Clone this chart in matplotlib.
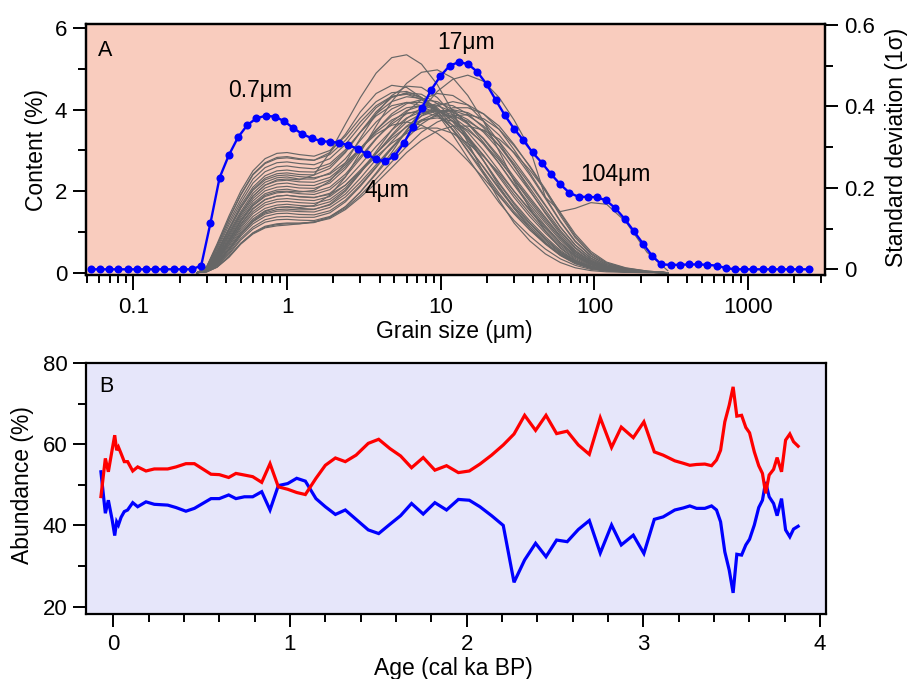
import matplotlib
matplotlib.use("Agg")
import matplotlib.pyplot as plt
from matplotlib.ticker import FixedLocator, FixedFormatter, NullFormatter

plt.rcParams['font.family'] = ['Liberation Sans', 'DejaVu Sans']

# ---------------- Panel A data ----------------
# grain-size classes (um) of the standard-deviation curve
SIZE_UM = [0.0528, 0.0607, 0.0697, 0.0800, 0.0918, 0.1053, 0.1209, 0.1387, 0.1592, 0.1828,
           0.2098, 0.2408, 0.2764, 0.3173, 0.3642, 0.4180, 0.4797, 0.5507, 0.6321, 0.7256,
           0.8329, 0.9560, 1.097, 1.260, 1.446, 1.660, 1.905, 2.187, 2.510, 2.881,
           3.307, 3.796, 4.357, 5.001, 5.741, 6.590, 7.564, 8.682, 9.966, 11.44,
           13.13, 15.07, 17.30, 19.86, 22.79, 26.16, 30.03, 34.47, 39.57, 45.42,
           52.13, 59.84, 68.69, 78.85, 90.51, 103.9, 119.2, 136.9, 157.1, 180.3,
           207.0, 237.6, 272.7, 313.0, 359.3, 412.5, 473.4, 543.4, 623.8, 716.0,
           821.9, 943.4, 1083, 1243, 1427, 1638, 1880, 2158, 2477]
STD_1SIGMA = [0.0, 0.0, 0.0, 0.0, 0.0, 0.0, 0.0, 0.0, 0.0, 0.0,
              0.0, 0.0, 0.009, 0.113, 0.225, 0.280, 0.324, 0.354, 0.371, 0.377,
              0.375, 0.364, 0.347, 0.332, 0.322, 0.315, 0.313, 0.311, 0.305, 0.296,
              0.283, 0.270, 0.265, 0.278, 0.309, 0.350, 0.397, 0.441, 0.475, 0.500,
              0.509, 0.504, 0.485, 0.455, 0.416, 0.378, 0.345, 0.317, 0.287, 0.262,
              0.234, 0.209, 0.188, 0.178, 0.178, 0.177, 0.169, 0.150, 0.124, 0.094,
              0.063, 0.033, 0.012, 0.011, 0.011, 0.012, 0.012, 0.011, 0.009, 0.003,
              0.0, 0.0, 0.0, 0.0, 0.0, 0.0, 0.0, 0.0, 0.0]

# grain-size classes (um) of the sample distributions (grey curves)
GRAY_SIZE = [0.26, 0.3, 0.35, 0.42, 0.5, 0.6, 0.72, 0.86, 1.0, 1.2, 1.5, 1.9, 2.4, 3.0, 3.8,
             4.8, 6.0, 7.5, 9.5, 12, 15, 19, 24, 30, 38, 48, 60, 75, 95, 120, 160, 220, 300]

S01 = [0, 0.15, 0.7, 1.4, 2.0, 2.5, 2.8, 2.93, 2.95, 2.9, 2.86, 3.0, 3.35, 3.8, 4.2, 4.42, 4.45, 4.3, 3.98, 3.5, 2.98, 2.42, 1.9, 1.45, 1.05, 0.7, 0.42, 0.22, 0.1, 0.05, 0.02, 0.01, 0]
S02 = [0, 0.12, 0.6, 1.25, 1.8, 2.3, 2.58, 2.7, 2.72, 2.68, 2.65, 2.8, 3.15, 3.6, 4.05, 4.32, 4.4, 4.3, 4.02, 3.6, 3.12, 2.58, 2.05, 1.58, 1.15, 0.78, 0.48, 0.26, 0.12, 0.06, 0.025, 0.01, 0]
S03 = [0, 0.1, 0.52, 1.1, 1.65, 2.1, 2.38, 2.5, 2.52, 2.48, 2.47, 2.62, 2.98, 3.45, 3.9, 4.2, 4.32, 4.28, 4.05, 3.7, 3.25, 2.75, 2.2, 1.72, 1.27, 0.88, 0.55, 0.3, 0.15, 0.07, 0.03, 0.01, 0]
S04 = [0, 0.08, 0.46, 1.0, 1.5, 1.95, 2.22, 2.33, 2.35, 2.3, 2.3, 2.45, 2.8, 3.25, 3.7, 4.02, 4.18, 4.18, 4.0, 3.72, 3.35, 2.88, 2.35, 1.85, 1.38, 0.97, 0.62, 0.35, 0.17, 0.08, 0.035, 0.01, 0]
S05 = [0, 0.07, 0.4, 0.9, 1.4, 1.82, 2.08, 2.18, 2.2, 2.15, 2.14, 2.28, 2.6, 3.05, 3.5, 3.85, 4.05, 4.1, 4.0, 3.78, 3.45, 3.0, 2.5, 2.0, 1.52, 1.08, 0.7, 0.4, 0.2, 0.1, 0.04, 0.01, 0]
S06 = [0, 0.06, 0.36, 0.82, 1.3, 1.7, 1.94, 2.03, 2.05, 2.0, 1.98, 2.1, 2.42, 2.85, 3.3, 3.65, 3.9, 4.0, 3.98, 3.82, 3.55, 3.15, 2.68, 2.18, 1.68, 1.22, 0.8, 0.46, 0.23, 0.11, 0.05, 0.015, 0]
S07 = [0, 0.05, 0.31, 0.75, 1.2, 1.58, 1.8, 1.88, 1.9, 1.86, 1.84, 1.95, 2.25, 2.65, 3.1, 3.5, 3.8, 3.95, 3.98, 3.88, 3.65, 3.3, 2.85, 2.35, 1.85, 1.36, 0.9, 0.52, 0.27, 0.13, 0.055, 0.02, 0]
S08 = [0, 0.04, 0.27, 0.68, 1.1, 1.45, 1.66, 1.74, 1.75, 1.72, 1.7, 1.8, 2.08, 2.48, 2.93, 3.35, 3.7, 3.9, 3.98, 3.94, 3.76, 3.45, 3.02, 2.52, 2.0, 1.48, 1.0, 0.6, 0.3, 0.14, 0.06, 0.02, 0]
S09 = [0, 0.04, 0.24, 0.6, 1.0, 1.32, 1.52, 1.6, 1.61, 1.58, 1.56, 1.66, 1.93, 2.32, 2.78, 3.22, 3.6, 3.85, 3.98, 3.98, 3.86, 3.6, 3.22, 2.75, 2.22, 1.66, 1.12, 0.68, 0.35, 0.16, 0.07, 0.02, 0]
S10 = [0, 0.03, 0.2, 0.52, 0.9, 1.2, 1.38, 1.45, 1.46, 1.43, 1.42, 1.52, 1.78, 2.15, 2.6, 3.05, 3.45, 3.75, 3.93, 4.0, 3.93, 3.72, 3.38, 2.93, 2.4, 1.82, 1.25, 0.76, 0.4, 0.19, 0.08, 0.025, 0]
S11 = [0, 0.03, 0.17, 0.45, 0.8, 1.07, 1.24, 1.3, 1.31, 1.29, 1.28, 1.38, 1.62, 1.98, 2.42, 2.88, 3.3, 3.65, 3.9, 4.05, 4.05, 3.9, 3.6, 3.15, 2.6, 2.0, 1.4, 0.86, 0.45, 0.22, 0.1, 0.03, 0]
S12 = [0, 0.02, 0.13, 0.38, 0.7, 0.95, 1.1, 1.15, 1.17, 1.2, 1.25, 1.36, 1.58, 1.9, 2.3, 2.72, 3.1, 3.45, 3.7, 3.85, 3.88, 3.78, 3.52, 3.12, 2.62, 2.05, 1.45, 0.9, 0.48, 0.24, 0.11, 0.04, 0]
S13 = [0, 0.09, 0.48, 1.05, 1.58, 2.02, 2.28, 2.38, 2.4, 2.36, 2.33, 2.42, 2.7, 3.05, 3.4, 3.62, 3.7, 3.62, 3.42, 3.12, 2.75, 2.32, 1.88, 1.45, 1.05, 0.72, 0.45, 0.25, 0.12, 0.06, 0.025, 0.01, 0]
S14 = [0, 0.05, 0.3, 0.74, 1.18, 1.56, 1.79, 1.88, 1.9, 1.87, 1.85, 1.92, 2.15, 2.48, 2.85, 3.18, 3.42, 3.55, 3.55, 3.42, 3.18, 2.85, 2.45, 2.0, 1.55, 1.12, 0.74, 0.43, 0.22, 0.1, 0.045, 0.015, 0]
S15 = [0, 0.04, 0.22, 0.57, 0.95, 1.27, 1.47, 1.55, 1.56, 1.54, 1.55, 1.68, 2.0, 2.45, 2.98, 3.5, 3.95, 4.25, 4.4, 4.35, 4.12, 3.72, 3.2, 2.62, 2.02, 1.45, 0.95, 0.55, 0.28, 0.13, 0.055, 0.02, 0]
S16 = [0, 0.13, 0.65, 1.33, 1.9, 2.4, 2.68, 2.8, 2.82, 2.78, 2.76, 2.95, 3.4, 3.95, 4.4, 4.6, 4.55, 4.3, 3.9, 3.38, 2.82, 2.25, 1.72, 1.28, 0.9, 0.58, 0.34, 0.18, 0.08, 0.04, 0.015, 0.005, 0]
S17 = [0, 0.07, 0.42, 0.95, 1.45, 1.88, 2.15, 2.28, 2.3, 2.28, 2.4, 2.95, 3.65, 4.3, 4.9, 5.28, 5.35, 5.12, 4.62, 3.95, 3.2, 2.45, 1.78, 1.22, 0.78, 0.46, 0.25, 0.12, 0.05, 0.02, 0.01, 0, 0]
S18 = [0, 0.03, 0.22, 0.58, 0.95, 1.28, 1.5, 1.6, 1.62, 1.6, 1.65, 1.9, 2.35, 2.95, 3.6, 4.2, 4.65, 4.92, 4.98, 4.78, 4.35, 3.72, 2.98, 2.25, 1.58, 1.02, 0.6, 0.32, 0.15, 0.07, 0.03, 0.01, 0]
S19 = [0, 0.02, 0.14, 0.4, 0.72, 0.97, 1.12, 1.18, 1.2, 1.2, 1.23, 1.36, 1.62, 1.98, 2.45, 2.95, 3.5, 4.0, 4.45, 4.75, 4.85, 4.7, 4.3, 3.75, 3.05, 1.85, 1.5, 1.58, 1.72, 1.68, 1.25, 0.5, 0.05]
S20 = [0, 0.14, 0.66, 1.33, 1.92, 2.42, 2.7, 2.83, 2.85, 2.8, 2.76, 2.9, 3.25, 3.7, 4.1, 4.33, 4.38, 4.25, 3.95, 3.5, 3.0, 2.48, 1.95, 1.5, 1.1, 0.74, 0.45, 0.24, 0.11, 0.05, 0.02, 0.01, 0]
S21 = [0, 0.11, 0.56, 1.18, 1.72, 2.2, 2.48, 2.6, 2.62, 2.58, 2.55, 2.68, 3.02, 3.45, 3.85, 4.1, 4.18, 4.1, 3.88, 3.52, 3.08, 2.6, 2.08, 1.62, 1.2, 0.82, 0.5, 0.28, 0.13, 0.06, 0.025, 0.01, 0]
S22 = [0, 0.09, 0.5, 1.07, 1.6, 2.05, 2.32, 2.43, 2.45, 2.41, 2.4, 2.56, 2.95, 3.45, 3.95, 4.3, 4.42, 4.38, 4.15, 3.78, 3.3, 2.75, 2.18, 1.68, 1.22, 0.84, 0.52, 0.29, 0.14, 0.07, 0.03, 0.01, 0]
S23 = [0, 0.08, 0.43, 0.95, 1.45, 1.88, 2.15, 2.25, 2.27, 2.23, 2.22, 2.34, 2.65, 3.05, 3.45, 3.75, 3.92, 3.95, 3.85, 3.62, 3.3, 2.88, 2.4, 1.92, 1.45, 1.02, 0.66, 0.38, 0.19, 0.09, 0.04, 0.01, 0]
S24 = [0, 0.07, 0.38, 0.86, 1.35, 1.76, 2.01, 2.1, 2.12, 2.08, 2.07, 2.2, 2.55, 3.0, 3.5, 3.9, 4.15, 4.25, 4.2, 4.0, 3.66, 3.2, 2.68, 2.15, 1.62, 1.15, 0.74, 0.42, 0.21, 0.1, 0.045, 0.015, 0]
S25 = [0, 0.06, 0.34, 0.78, 1.25, 1.64, 1.87, 1.96, 1.98, 1.94, 1.92, 2.04, 2.36, 2.8, 3.28, 3.7, 3.98, 4.1, 4.1, 3.95, 3.68, 3.28, 2.8, 2.28, 1.75, 1.27, 0.84, 0.48, 0.24, 0.11, 0.05, 0.015, 0]
S26 = [0, 0.05, 0.29, 0.7, 1.14, 1.5, 1.72, 1.8, 1.82, 1.79, 1.77, 1.87, 2.15, 2.52, 2.93, 3.3, 3.58, 3.75, 3.8, 3.72, 3.5, 3.18, 2.76, 2.3, 1.8, 1.32, 0.88, 0.51, 0.26, 0.12, 0.05, 0.015, 0]
S27 = [0, 0.04, 0.25, 0.64, 1.05, 1.38, 1.58, 1.66, 1.68, 1.65, 1.63, 1.74, 2.03, 2.45, 2.92, 3.38, 3.78, 4.05, 4.15, 4.1, 3.9, 3.56, 3.12, 2.62, 2.08, 1.54, 1.04, 0.62, 0.32, 0.15, 0.065, 0.02, 0]
S28 = [0, 0.035, 0.22, 0.56, 0.94, 1.25, 1.44, 1.51, 1.52, 1.5, 1.49, 1.6, 1.86, 2.22, 2.65, 3.08, 3.46, 3.72, 3.85, 3.85, 3.72, 3.48, 3.12, 2.68, 2.17, 1.64, 1.12, 0.68, 0.36, 0.17, 0.075, 0.025, 0]
S29 = [0, 0.03, 0.18, 0.48, 0.84, 1.12, 1.3, 1.37, 1.38, 1.36, 1.36, 1.47, 1.74, 2.12, 2.58, 3.05, 3.5, 3.85, 4.1, 4.2, 4.12, 3.9, 3.52, 3.02, 2.45, 1.85, 1.27, 0.78, 0.41, 0.2, 0.09, 0.03, 0]
S30 = [0, 0.02, 0.14, 0.4, 0.72, 0.98, 1.14, 1.2, 1.22, 1.22, 1.24, 1.33, 1.55, 1.85, 2.2, 2.58, 2.95, 3.25, 3.48, 3.6, 3.6, 3.5, 3.28, 2.95, 2.52, 2.02, 1.48, 0.95, 0.52, 0.26, 0.12, 0.04, 0]
S31 = [0, 0.06, 0.35, 0.8, 1.27, 1.66, 1.9, 1.99, 2.0, 1.98, 2.02, 2.25, 2.7, 3.3, 3.9, 4.35, 4.58, 4.55, 4.3, 3.88, 3.35, 2.75, 2.12, 1.58, 1.1, 0.72, 0.43, 0.23, 0.11, 0.05, 0.02, 0.01, 0]

GRAY_CURVES = [S01, S02, S03, S04, S05, S06, S07, S08, S09, S10,
               S11, S12, S13, S14, S15, S16, S17, S18, S19, S20,
               S21, S22, S23, S24, S25, S26, S27, S28, S29, S30, S31]

# ---------------- Panel B data ----------------
AGE_KA = [-0.070, -0.045, -0.028, -0.007, 0.008, 0.019, 0.029, 0.044, 0.062, 0.081,
          0.110, 0.138, 0.185, 0.232, 0.308, 0.355, 0.411, 0.459, 0.506, 0.553,
          0.600, 0.653, 0.694, 0.742, 0.789, 0.840, 0.887, 0.934, 0.987, 1.038,
          1.087, 1.147, 1.200, 1.257, 1.313, 1.374, 1.443, 1.502, 1.566, 1.626,
          1.688, 1.754, 1.820, 1.886, 1.953, 2.015, 2.075, 2.141, 2.207, 2.268,
          2.328, 2.390, 2.449, 2.509, 2.569, 2.632, 2.694, 2.756, 2.820, 2.875,
          2.943, 3.003, 3.062, 3.112, 3.178, 3.226, 3.263, 3.301, 3.348, 3.386,
          3.414, 3.437, 3.461, 3.486, 3.508, 3.529, 3.556, 3.580, 3.601, 3.628,
          3.653, 3.674, 3.692, 3.712, 3.737, 3.757, 3.782, 3.805, 3.829, 3.850,
          3.876]
RED_PCT = [47.1, 56.5, 53.2, 58.5, 62.2, 58.5, 59.3, 57.7, 55.7, 55.7,
           53.4, 54.4, 53.4, 53.9, 53.9, 54.4, 55.2, 55.2, 53.9, 52.6,
           52.5, 51.8, 52.8, 52.4, 52.0, 50.6, 55.2, 49.5, 48.9, 48.1,
           47.6, 51.6, 54.8, 56.6, 55.7, 57.3, 60.2, 61.2, 58.9, 57.1,
           54.2, 56.7, 53.6, 54.7, 53.0, 53.4, 55.1, 57.3, 59.8, 62.5,
           67.1, 63.4, 67.1, 62.6, 63.2, 59.8, 57.5, 66.5, 59.2, 64.2,
           61.6, 65.5, 58.1, 57.3, 55.9, 55.3, 54.8, 55.0, 55.1, 54.7,
           56.1, 58.5, 65.5, 69.6, 74.1, 66.9, 67.1, 64.1, 62.8, 58.1,
           54.7, 52.8, 47.9, 52.4, 53.8, 56.7, 53.2, 61.0, 62.5, 60.6,
           59.5]
BLUE_PCT = [53.2, 43.0, 46.2, 41.5, 37.5, 40.9, 40.1, 42.0, 43.4, 43.8,
            45.6, 44.6, 45.8, 45.2, 45.0, 44.4, 43.5, 44.2, 45.4, 46.6,
            46.6, 47.5, 46.6, 47.05, 47.05, 48.3, 43.8, 49.8, 50.3, 51.6,
            50.9, 46.6, 44.6, 42.7, 43.8, 41.5, 38.9, 38.0, 40.3, 42.4,
            45.4, 42.8, 45.6, 43.8, 46.4, 46.2, 44.6, 42.4, 40.0, 26.0,
            31.5, 35.6, 32.3, 36.4, 36.0, 39.0, 41.2, 33.2, 40.1, 35.2,
            37.6, 33.1, 41.5, 42.1, 43.8, 44.3, 44.8, 44.2, 44.2, 44.8,
            43.8, 40.9, 33.5, 29.0, 23.4, 32.9, 32.7, 35.2, 36.6, 40.1,
            44.4, 46.2, 50.7, 47.05, 45.4, 42.4, 46.6, 38.9, 37.2, 39.1,
            39.8]

PEAK_LABELS = ['0.7μm', '4μm', '17μm', '104μm']

# ---------------- Figure ----------------
W, H = 909, 679
fig = plt.figure(figsize=(W / 100, H / 100), dpi=100)


def fx(px):
    return px / W


def fy(py):
    return 1 - py / H


TOP_BG = '#F9CCBE'
BOT_BG = '#E6E6FA'
FS_TICK = 16
FS_LAB = 16.5


def style_axis(ax):
    for sp in ax.spines.values():
        sp.set_linewidth(1.6)
    ax.tick_params(which='major', direction='out', length=9.5, width=1.4,
                   labelsize=FS_TICK, pad=4)
    ax.tick_params(which='minor', direction='out', length=5.5, width=1.4)


# Panel A
axA = fig.add_axes([fx(86), fy(275), fx(825) - fx(86), fy(24) - fy(275)])
axA.set_facecolor(TOP_BG)
axA.set_xscale('log')
for curve in GRAY_CURVES:
    axA.plot(GRAY_SIZE, curve, color='#666666', lw=0.85, zorder=2)
axA.set_xlim(0.04922, 3164)
axA.set_ylim(-0.057, 6.106)
axA.yaxis.set_major_locator(FixedLocator([0, 2, 4, 6]))
axA.yaxis.set_minor_locator(FixedLocator([1, 3, 5]))
axA.yaxis.set_major_formatter(FixedFormatter(['0', '2', '4', '6']))
xmaj = [0.1, 1, 10, 100, 1000]
axA.xaxis.set_major_locator(FixedLocator(xmaj))
axA.xaxis.set_major_formatter(FixedFormatter(['0.1', '1', '10', '100', '1000']))
xmin = []
for dec in [0.01, 0.1, 1, 10, 100, 1000]:
    for m in range(2, 10):
        v = dec * m
        if 0.0492 <= v <= 3164:
            xmin.append(v)
axA.xaxis.set_minor_locator(FixedLocator(xmin))
axA.xaxis.set_minor_formatter(NullFormatter())
style_axis(axA)
axA.tick_params(axis='x', which='major', length=10.5, pad=5)

axA2 = axA.twinx()
axA2.plot(SIZE_UM, STD_1SIGMA, '-o', color='#0000FF', lw=1.7, ms=5.8,
          markeredgewidth=0, zorder=5)
axA2.set_ylim(-0.014, 0.6025)
axA2.yaxis.set_major_locator(FixedLocator([0, 0.2, 0.4, 0.6]))
axA2.yaxis.set_major_formatter(FixedFormatter(['0', '0.2', '0.4', '0.6']))
axA2.yaxis.set_minor_locator(FixedLocator([0.1, 0.3, 0.5]))
style_axis(axA2)

# Panel B
axB = fig.add_axes([fx(86), fy(614), fx(825.7) - fx(86), fy(362.7) - fy(614)])
axB.set_facecolor(BOT_BG)
axB.plot(AGE_KA, BLUE_PCT, color='#0000FF', lw=2.3, solid_joinstyle='miter')
axB.plot(AGE_KA, RED_PCT, color='#FF0000', lw=2.3, solid_joinstyle='miter')
axB.set_xlim(-0.1545, 4.032)
axB.set_ylim(18.2, 80.05)
axB.xaxis.set_major_locator(FixedLocator([0, 1, 2, 3, 4]))
axB.xaxis.set_major_formatter(FixedFormatter(['0', '1', '2', '3', '4']))
axB.xaxis.set_minor_locator(FixedLocator([i / 5 for i in range(0, 20) if i % 5 != 0]))
axB.yaxis.set_major_locator(FixedLocator([20, 40, 60, 80]))
axB.yaxis.set_major_formatter(FixedFormatter(['20', '40', '60', '80']))
axB.yaxis.set_minor_locator(FixedLocator([30, 50, 70]))
style_axis(axB)
axB.tick_params(axis='x', which='major', pad=5)

# Texts
fig.text(fx(105), fy(50), 'A', fontsize=15.5, ha='center', va='center')
fig.text(fx(106), fy(386), 'B', fontsize=15.5, ha='center', va='center')
fig.text(fx(260), fy(90), PEAK_LABELS[0], fontsize=FS_LAB, ha='center', va='center')
fig.text(fx(387), fy(191), PEAK_LABELS[1], fontsize=FS_LAB, ha='center', va='center')
fig.text(fx(466), fy(43), PEAK_LABELS[2], fontsize=FS_LAB, ha='center', va='center')
fig.text(fx(615), fy(175), PEAK_LABELS[3], fontsize=FS_LAB, ha='center', va='center')

fig.text(fx(36), fy(150), 'Content (%)', fontsize=FS_LAB, rotation=90,
         ha='center', va='center')
fig.text(fx(896), fy(147), 'Standard deviation (1σ)', fontsize=FS_LAB, rotation=90,
         ha='center', va='center')
fig.text(fx(454), fy(338), 'Grain size (μm)', fontsize=FS_LAB, ha='center',
         va='baseline')
fig.text(fx(23), fy(485), 'Abundance (%)', fontsize=FS_LAB, rotation=90,
         ha='center', va='center')
fig.text(fx(453), fy(675), 'Age (cal ka BP)', fontsize=FS_LAB, ha='center',
         va='baseline')

fig.savefig('out.png', dpi=100)
